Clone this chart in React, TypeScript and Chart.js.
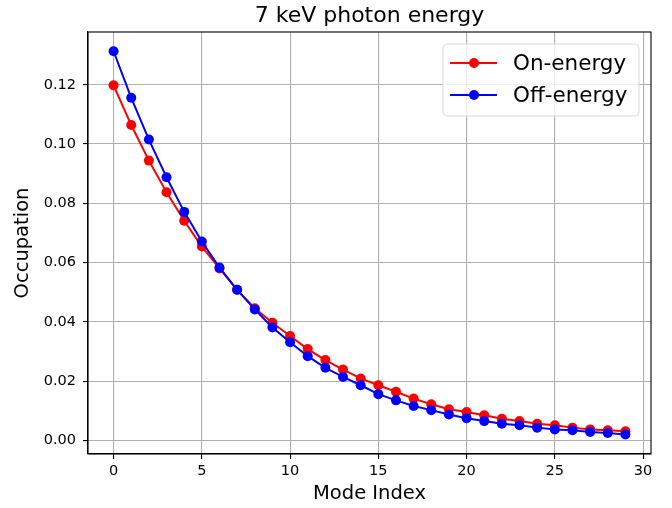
import React, { useEffect, useRef } from "react";
import { Chart, registerables } from "chart.js";

Chart.register(...registerables);

const titleText = "7 keV photon energy";
const xLabel = "Mode Index";
const yLabel = "Occupation";
const seriesNames = ["On-energy", "Off-energy"];
const seriesColors = ["#ff0000", "#0000ff"];

const modeIndex = [0, 1, 2, 3, 4, 5, 6, 7, 8, 9, 10, 11, 12, 13, 14, 15, 16, 17, 18, 19, 20, 21, 22, 23, 24, 25, 26, 27, 28, 29];
const onEnergy = [0.1198, 0.1064, 0.0944, 0.0837, 0.0741, 0.0654, 0.0580, 0.0508, 0.0446, 0.0397, 0.0352, 0.0308, 0.0271, 0.0239, 0.0209, 0.0186, 0.0164, 0.0141, 0.0122, 0.0105, 0.0096, 0.0085, 0.0073, 0.0065, 0.0056, 0.0051, 0.0043, 0.0037, 0.0034, 0.0031];
const offEnergy = [0.1313, 0.1156, 0.1015, 0.0888, 0.0771, 0.0671, 0.0583, 0.0508, 0.0442, 0.0381, 0.0331, 0.0284, 0.0245, 0.0214, 0.0186, 0.0156, 0.0135, 0.0116, 0.0102, 0.0087, 0.0075, 0.0065, 0.0056, 0.0051, 0.0043, 0.0037, 0.0034, 0.0028, 0.0025, 0.0020];

const xTicks = [0, 5, 10, 15, 20, 25, 30];
const yTicks = [0, 0.02, 0.04, 0.06, 0.08, 0.1, 0.12];

const FONT = "'DejaVu Sans', sans-serif";

const decorPlugin = {
  id: "decor",
  afterDraw(chart: any) {
    const { ctx, chartArea } = chart;
    const { left, right, top, bottom } = chartArea;
    ctx.save();
    // spines
    ctx.strokeStyle = "#000";
    ctx.lineWidth = 1.1;
    ctx.strokeRect(left, top, right - left, bottom - top);
    // title
    ctx.fillStyle = "#000";
    ctx.font = `22px ${FONT}`;
    ctx.textAlign = "center";
    ctx.textBaseline = "middle";
    ctx.fillText(titleText, (left + right) / 2, 16);
    // x label
    ctx.font = `19.5px ${FONT}`;
    ctx.fillText(xLabel, (left + right) / 2, 494);
    // y label
    ctx.save();
    ctx.translate(23, (top + bottom) / 2);
    ctx.rotate(-Math.PI / 2);
    ctx.fillText(yLabel, 0, 0);
    ctx.restore();
    // legend
    const bx = 443, by = 44, bw = 196, bh = 72, r = 5;
    ctx.beginPath();
    ctx.moveTo(bx + r, by);
    ctx.lineTo(bx + bw - r, by);
    ctx.quadraticCurveTo(bx + bw, by, bx + bw, by + r);
    ctx.lineTo(bx + bw, by + bh - r);
    ctx.quadraticCurveTo(bx + bw, by + bh, bx + bw - r, by + bh);
    ctx.lineTo(bx + r, by + bh);
    ctx.quadraticCurveTo(bx, by + bh, bx, by + bh - r);
    ctx.lineTo(bx, by + r);
    ctx.quadraticCurveTo(bx, by, bx + r, by);
    ctx.closePath();
    ctx.fillStyle = "rgba(255,255,255,0.8)";
    ctx.fill();
    ctx.strokeStyle = "#d8d8d8";
    ctx.lineWidth = 1;
    ctx.stroke();
    const rows = [63, 95];
    seriesNames.forEach((name, i) => {
      const y = rows[i];
      ctx.strokeStyle = seriesColors[i];
      ctx.lineWidth = 2;
      ctx.beginPath();
      ctx.moveTo(450, y);
      ctx.lineTo(497, y);
      ctx.stroke();
      ctx.fillStyle = seriesColors[i];
      ctx.beginPath();
      ctx.arc(474, y, 5, 0, Math.PI * 2);
      ctx.fill();
      ctx.fillStyle = "#000";
      ctx.font = `21.5px ${FONT}`;
      ctx.textAlign = "left";
      ctx.textBaseline = "middle";
      ctx.fillText(name, 513, y + 1);
    });
    ctx.restore();
  },
};

export default function App() {
  const canvasRef = useRef<HTMLCanvasElement | null>(null);

  useEffect(() => {
    const canvas = canvasRef.current;
    if (!canvas) return;
    const chart = new Chart(canvas, {
      type: "line",
      data: {
        datasets: [
          {
            label: seriesNames[0],
            data: modeIndex.map((x, i) => ({ x, y: onEnergy[i] })),
            borderColor: seriesColors[0],
            backgroundColor: seriesColors[0],
            pointBackgroundColor: seriesColors[0],
            borderWidth: 2,
            pointRadius: 5,
            pointBorderWidth: 0,
            order: 1,
          },
          {
            label: seriesNames[1],
            data: modeIndex.map((x, i) => ({ x, y: offEnergy[i] })),
            borderColor: seriesColors[1],
            backgroundColor: seriesColors[1],
            pointBackgroundColor: seriesColors[1],
            borderWidth: 2,
            pointRadius: 5,
            pointBorderWidth: 0,
            order: 0,
          },
        ],
      },
      options: {
        animation: false,
        responsive: false,
        layout: { padding: { left: 0, right: 21, top: 32, bottom: 0 } },
        plugins: {
          legend: { display: false },
          title: { display: false },
          tooltip: { enabled: false },
        },
        scales: {
          x: {
            type: "linear",
            min: -1.45,
            max: 30.45,
            afterFit: (s: any) => {
              s.height = 54;
            },
            afterBuildTicks: (s: any) => {
              s.ticks = xTicks.map((v) => ({ value: v }));
            },
            grid: { color: "#b0b0b0", lineWidth: 1.1, tickColor: "#000", tickLength: 5 },
            border: { color: "#000", width: 1.1 },
            ticks: {
              color: "#000",
              font: { family: FONT, size: 14.5 },
              padding: 4,
              maxRotation: 0,
              callback: (v: any) => String(v),
            },
          },
          y: {
            type: "linear",
            min: -0.0046,
            max: 0.1378,
            afterFit: (s: any) => {
              s.width = 88;
            },
            afterBuildTicks: (s: any) => {
              s.ticks = yTicks.map((v) => ({ value: v }));
            },
            grid: { color: "#b0b0b0", lineWidth: 1.1, tickColor: "#000", tickLength: 5 },
            border: { color: "#000", width: 1.1 },
            ticks: {
              color: "#000",
              font: { family: FONT, size: 14.5 },
              padding: 7,
              callback: (v: any) => Number(v).toFixed(2),
            },
          },
        },
      },
      plugins: [decorPlugin],
    });
    return () => chart.destroy();
  }, []);

  return (
    <div style={{ position: "absolute", left: 0, top: 0, width: 672, height: 508, background: "#fff" }}>
      <canvas ref={canvasRef} width={672} height={508} style={{ display: "block" }} />
    </div>
  );
}
